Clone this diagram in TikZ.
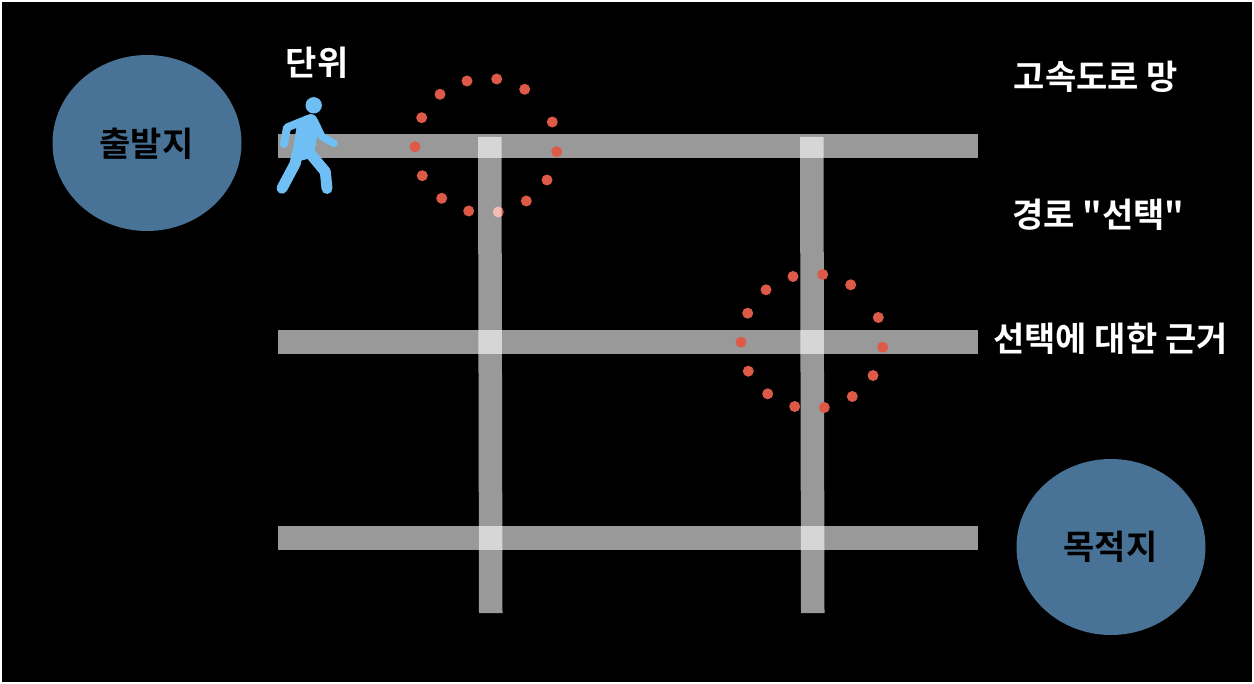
\documentclass[tikz,border=0pt]{standalone}
\usepackage{fontspec}
\newfontfamily\kr{Noto Sans CJK KR}[BoldFont={Noto Sans CJK KR Bold}]
\definecolor{place}{HTML}{487397}
\definecolor{dotc}{HTML}{DD5A48}
\definecolor{walker}{HTML}{6FBFF5}
\tikzset{
  x=1pt,y=-1pt,
  place/.style={ellipse,minimum width=189pt,minimum height=176pt,inner sep=0pt,fill=place},
  lab/.style={font=\kr\bfseries\fontsize{34}{34}\selectfont,text=black,inner sep=0pt},
  wlab/.style={font=\kr\bfseries\fontsize{34}{34}\selectfont,text=white,inner sep=0pt},
  road/.style={fill=white,fill opacity=0.6},
  limb/.style={draw=walker,line cap=round,line join=round},
  pdot/.style={fill=dotc}
}
\usetikzlibrary{shapes.geometric}
\begin{document}
\begin{tikzpicture}
\useasboundingbox (0,0) rectangle (1254,684);
\fill[white] (0,0) rectangle (1254,684);
\fill[black] (2,2) rectangle (1252,682);
% places
\node[place] (start) at (147,143) {};
\node[place] (goal) at (1111,547) {};
\node[lab] (startl) at (146.5,144) {출발지};
\node[lab] (goall) at (1110.5,547) {목적지};
% horizontal roads
\fill[road] (278,134) rectangle (978,158);
\fill[road] (278,330) rectangle (978,354);
\fill[road] (278,526) rectangle (978,550);
% first ring of dots (under the first vertical road)
\foreach \p in {(415,146.7),(421.7,117.7),(440,94.3),(467,81),(496.7,79),(524.7,89.3),(552.3,122),(556.7,151.7),(547,180),(526.3,201),(498.3,212),(468.7,211),(441.7,198.3),(422.3,175.7)}{
  \fill[pdot] \p circle (5.5);
}
% vertical roads
\fill[road] (478,137) -- (501.5,137) -- (502.5,613) -- (479,613) -- cycle;
\fill[road] (800,137) -- (823.5,137) -- (824.5,613) -- (801,613) -- cycle;
% second ring of dots (over the second vertical road)
\foreach \p in {(415,146.7),(421.7,117.7),(440,94.3),(467,81),(496.7,79),(524.7,89.3),(552.3,122),(556.7,151.7),(547,180),(526.3,201),(498.3,212),(468.7,211),(441.7,198.3),(422.3,175.7)}{
  \fill[pdot,shift={(326,195.5)}] \p circle (5.5);
}
% walker
\fill[walker] (313.7,105.3) circle (8.2);
\fill[walker,rounded corners=2] (297,124) -- (308,114) -- (315,114.5) -- (319,123) -- (315.5,147) -- (311,158) -- (300,161) -- (290.5,165) -- cycle;
\draw[limb,line width=8] (308,119) -- (287,127.5) -- (284,144);
\draw[limb,line width=7.5] (313.7,120) -- (322,136.7) -- (334,143.3);
\draw[limb,line width=11] (297,153.3) -- (295.3,163.3) -- (282,188.3);
\draw[limb,line width=11] (308.7,151.7) -- (325.3,171.7) -- (327,188.5);
% labels
\node[wlab] (unit) at (317,63) {단위};
\node[wlab] (net) at (1096,77) {고속도로 망};
\node[wlab] (route) at (1098.5,215) {경로 "선택"};
\node[wlab] (why) at (1110.5,338.5) {선택에 대한 근거};
\end{tikzpicture}
\end{document}
